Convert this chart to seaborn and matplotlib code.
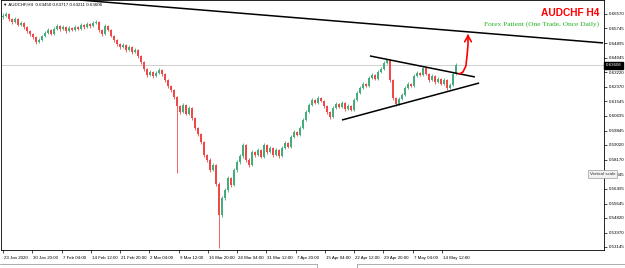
import numpy as np
import pandas as pd
import matplotlib
matplotlib.use("Agg")
import matplotlib.pyplot as plt
from matplotlib.lines import Line2D
import matplotlib.transforms as mtrans
import seaborn as sns

# ---------------- data (AUDCHF, H4, compressed candles) ----------------
first_open = 0.6640
closes = [
    0.6645, 0.6657, 0.6628, 0.6610, 0.6628, 0.6593, 0.6605, 0.6582, 0.6559, 0.6541,
    0.6524, 0.6495, 0.6507, 0.6530, 0.6547, 0.6564, 0.6541, 0.6570, 0.6587, 0.6570,
    0.6582, 0.6559, 0.6576, 0.6564, 0.6582, 0.6570, 0.6593, 0.6582, 0.6599, 0.6587,
    0.6605, 0.6610, 0.6564, 0.6541, 0.6587, 0.6564, 0.6530, 0.6507, 0.6484, 0.6466,
    0.6478, 0.6449, 0.6466, 0.6438, 0.6449, 0.6415, 0.6380, 0.6340, 0.6305, 0.6322,
    0.6299, 0.6317, 0.6334, 0.6311, 0.6276, 0.6242, 0.6219, 0.6178, 0.6127, 0.6092,
    0.6132, 0.6081, 0.6115, 0.6058, 0.6000, 0.5965, 0.5919, 0.5844, 0.5816, 0.5758,
    0.5787, 0.5677, 0.5499, 0.5597, 0.5643, 0.5712, 0.5672, 0.5758, 0.5804, 0.5839,
    0.5902, 0.5816, 0.5787, 0.5862, 0.5844, 0.5873, 0.5833, 0.5902, 0.5862, 0.5885,
    0.5844, 0.5873, 0.5839, 0.5885, 0.5914, 0.5890, 0.5948, 0.5977, 0.5960, 0.6000,
    0.6046, 0.6092, 0.6132, 0.6161, 0.6144, 0.6173, 0.6155, 0.6127, 0.6092, 0.6063,
    0.6115, 0.6138, 0.6121, 0.6144, 0.6109, 0.6127, 0.6104, 0.6161, 0.6202, 0.6230,
    0.6253, 0.6242, 0.6288, 0.6305, 0.6282, 0.6322, 0.6340, 0.6374, 0.6392, 0.6276,
    0.6173, 0.6138, 0.6167, 0.6190, 0.6230, 0.6253, 0.6242, 0.6299, 0.6317, 0.6305,
    0.6346, 0.6311, 0.6276, 0.6299, 0.6265, 0.6282, 0.6253, 0.6276, 0.6230, 0.6248,
    0.6311, 0.63606,
]
highs = [
    0.6660, 0.6668, 0.6664, 0.6636, 0.6640, 0.6634, 0.6616, 0.6612, 0.6590, 0.6567,
    0.6550, 0.6532, 0.6518, 0.6538, 0.6556, 0.6575, 0.6570, 0.6580, 0.6597, 0.6595,
    0.6592, 0.6590, 0.6586, 0.6584, 0.6593, 0.6590, 0.6603, 0.6600, 0.6610, 0.6606,
    0.6614, 0.6622, 0.6618, 0.6572, 0.6598, 0.6594, 0.6571, 0.6538, 0.6515, 0.6492,
    0.6489, 0.6485, 0.6476, 0.6472, 0.6460, 0.6456, 0.6422, 0.6388, 0.6347, 0.6333,
    0.6330, 0.6327, 0.6345, 0.6341, 0.6318, 0.6284, 0.6250, 0.6226, 0.6186, 0.6135,
    0.6143, 0.6140, 0.6126, 0.6122, 0.6066, 0.6008, 0.5973, 0.5927, 0.5853, 0.5825,
    0.5798, 0.5795, 0.5688, 0.5610, 0.5656, 0.5725, 0.5720, 0.5770, 0.5816, 0.5850,
    0.5913, 0.5910, 0.5825, 0.5873, 0.5870, 0.5883, 0.5880, 0.5912, 0.5909, 0.5895,
    0.5892, 0.5882, 0.5880, 0.5895, 0.5924, 0.5921, 0.5958, 0.5987, 0.5985, 0.6010,
    0.6056, 0.6102, 0.6142, 0.6171, 0.6168, 0.6182, 0.6180, 0.6162, 0.6134, 0.6099,
    0.6125, 0.6148, 0.6145, 0.6154, 0.6151, 0.6137, 0.6134, 0.6171, 0.6212, 0.6240,
    0.6263, 0.6260, 0.6298, 0.6315, 0.6312, 0.6332, 0.6350, 0.6384, 0.6398, 0.6397,
    0.6282, 0.6180, 0.6177, 0.6200, 0.6240, 0.6263, 0.6261, 0.6309, 0.6327, 0.6324,
    0.6356, 0.6352, 0.6318, 0.6309, 0.6306, 0.6292, 0.6289, 0.6286, 0.6283, 0.6258,
    0.6321, 0.63717,
]
lows = [
    0.6630, 0.6638, 0.6619, 0.6598, 0.6603, 0.6585, 0.6586, 0.6573, 0.6550, 0.6530,
    0.6514, 0.6483, 0.6488, 0.6500, 0.6522, 0.6540, 0.6533, 0.6535, 0.6562, 0.6561,
    0.6563, 0.6550, 0.6552, 0.6556, 0.6557, 0.6562, 0.6563, 0.6573, 0.6575, 0.6578,
    0.6580, 0.6598, 0.6555, 0.6532, 0.6535, 0.6556, 0.6522, 0.6498, 0.6475, 0.6456,
    0.6458, 0.6440, 0.6442, 0.6429, 0.6430, 0.6406, 0.6370, 0.6330, 0.6294, 0.6297,
    0.6290, 0.6292, 0.6310, 0.6302, 0.6267, 0.6232, 0.6208, 0.6168, 0.5741, 0.6080,
    0.6085, 0.6072, 0.6074, 0.6048, 0.5990, 0.5955, 0.5908, 0.5832, 0.5804, 0.5746,
    0.5750, 0.5663, 0.5309, 0.5488, 0.5585, 0.5632, 0.5660, 0.5663, 0.5748, 0.5795,
    0.5830, 0.5805, 0.5776, 0.5780, 0.5835, 0.5836, 0.5825, 0.5826, 0.5853, 0.5855,
    0.5835, 0.5836, 0.5830, 0.5832, 0.5877, 0.5882, 0.5883, 0.5940, 0.5951, 0.5953,
    0.5993, 0.6039, 0.6085, 0.6125, 0.6136, 0.6137, 0.6147, 0.6118, 0.6083, 0.6052,
    0.6056, 0.6108, 0.6113, 0.6114, 0.6100, 0.6102, 0.6096, 0.6097, 0.6154, 0.6194,
    0.6223, 0.6234, 0.6235, 0.6280, 0.6274, 0.6275, 0.6314, 0.6333, 0.6366, 0.6266,
    0.6163, 0.6128, 0.6130, 0.6160, 0.6183, 0.6223, 0.6234, 0.6235, 0.6292, 0.6297,
    0.6298, 0.6303, 0.6267, 0.6269, 0.6256, 0.6258, 0.6245, 0.6246, 0.6221, 0.6222,
    0.6241, 0.6303,
]

price_ticks = [0.53145, 0.53970, 0.54820, 0.55645, 0.56495, 0.57345, 0.58170, 0.59020,
               0.59845, 0.60695, 0.61545, 0.62370, 0.63220, 0.64045, 0.64895, 0.65745,
               0.66570]
date_labels = ["23 Jan 2020", "30 Jan 20:00", "7 Feb 04:00", "14 Feb 12:00", "21 Feb 20:00",
               "2 Mar 04:00", "9 Mar 12:00", "16 Mar 20:00", "24 Mar 04:00", "31 Mar 12:00",
               "7 Apr 20:00", "15 Apr 04:00", "22 Apr 12:00", "29 Apr 20:00", "7 May 04:00",
               "14 May 12:00"]
date_label_bars = [0, 9.75, 19.5, 29.25, 39, 48.75, 58.5, 68.25, 78, 87.75, 97.5,
                   107.25, 117, 126.75, 136.5, 146.25]

header = "\u25bc AUDCHF,H4  0.63450 0.63717 0.63211 0.63606"
last_price = 0.63606

# user-drawn trendlines: (bar index, price)
long_line = [(25.7, 0.6737), (200.0, 0.6490)]
upper_line = [(122.3, 0.6415), (157.3, 0.6294)]
lower_line = [(113.0, 0.6046), (158.7, 0.6259)]
arrow_bars = [152.0, 153.3, 154.3, 154.7, 155.0, 155.0]
arrow_prices = [0.6311, 0.6322, 0.6357, 0.6420, 0.6478, 0.6525]

# ---------------- build frame ----------------
df = pd.DataFrame({"close": closes, "high": highs, "low": lows})
df["open"] = [first_open] + closes[:-1]
df["bar"] = np.arange(len(df))
df["dir"] = np.where(df["close"] >= df["open"], "up", "down")

sns.set_theme(style="white")
plt.rcParams["font.family"] = ["Liberation Sans", "DejaVu Sans"]

SMALL = 3.15

fig = plt.figure(figsize=(6.25, 2.68), dpi=100)
ax = fig.add_axes([1 / 625, 18 / 268, 603 / 625, 250 / 268])
ax.set_facecolor("white")

palette = {"up": "#45ad7c", "down": "#f04848"}
cols = df["dir"].map(palette)

ax.vlines(df["bar"], df["low"], df["high"], colors=cols, linewidth=0.6, zorder=2)
body_lo = np.minimum(df["open"], df["close"])
body_h = np.maximum(np.abs(df["close"] - df["open"]), 0.00025)
ax.bar(df["bar"], body_h, bottom=body_lo, width=0.72, color=cols, linewidth=0, zorder=3)

ax.set_xlim(-0.667, 200.333)
ax.set_ylim(0.52972, 0.67372)

# current price line
ax.axhline(last_price, color="#c8c8c8", lw=0.6, zorder=1)

# trendlines
for ln in (long_line, upper_line, lower_line):
    ax.plot([ln[0][0], ln[1][0]], [ln[0][1], ln[1][1]], color="black", lw=1.1,
            zorder=5, clip_on=True, solid_capstyle="butt")

# red arrow
ax.plot(arrow_bars, arrow_prices, color="#ff0000", lw=1.2, zorder=6)
ax.annotate("", xy=(155.0, 0.6556), xytext=(155.0, 0.6515),
            arrowprops=dict(arrowstyle="->,head_length=0.35,head_width=0.2",
                            color="#ff0000", lw=1.2), zorder=6)

# axes styling
for s in ax.spines.values():
    s.set_color("black")
    s.set_linewidth(0.6)
ax.yaxis.tick_right()
ax.set_yticks(price_ticks)
ax.set_yticklabels([f"{p:.5f}" for p in price_ticks])
ax.set_xticks(date_label_bars)
ax.set_xticklabels(date_labels, ha="left")
ax.tick_params(axis="both", labelsize=SMALL, length=2, width=0.5, color="black",
               labelcolor="black", direction="out")
ax.tick_params(axis="y", pad=1.2, right=True, left=False)
ax.tick_params(axis="x", pad=2.0, bottom=True)
shift = mtrans.ScaledTranslation(1 / 100, 0, fig.dpi_scale_trans)
for lab in ax.get_xticklabels():
    lab.set_transform(lab.get_transform() + shift)
ax.grid(False)

# price box on axis
ax.text(1.003, last_price, "0.63606", transform=ax.get_yaxis_transform(),
        fontsize=SMALL, color="white", va="center", ha="left", zorder=10,
        bbox=dict(boxstyle="square,pad=0.3", facecolor="black", edgecolor="black"),
        clip_on=False)

# texts
fig.text(3 / 625, 1 - 4.5 / 268, header, fontsize=SMALL, color="black", va="center", ha="left")
fig.text(599 / 625, 1 - 13 / 268, "AUDCHF H4", color="#ff0000", fontsize=7.3,
         fontweight="bold", family=["Liberation Sans", "DejaVu Sans"], ha="right", va="center")
fig.text(599 / 625, 1 - 24 / 268, "Forex Patient (One Trade, Once Daily)", color="#1fb51f",
         fontsize=5.3, family=["Liberation Serif", "DejaVu Serif"], ha="right", va="center")

# "Vertical scale" tooltip (covers a price label, as in the terminal)
fig.text(590 / 625, 1 - 174 / 268, "Vertical scale", fontsize=SMALL, color="#333333",
         va="center", ha="left", zorder=20,
         bbox=dict(boxstyle="square,pad=0.45", facecolor="#f2f2f2", edgecolor="#9a9a9a", lw=0.5))

# bottom tab bar lines
def fig_line(x0, y0, x1, y1, **kw):
    fig.add_artist(Line2D([x0 / 625, x1 / 625], [1 - y0 / 268, 1 - y1 / 268],
                          transform=fig.transFigure, **kw))

fig_line(0, 264, 317, 264, color="#a0a0a0", lw=0.6)
fig_line(317, 264, 317, 268, color="#a0a0a0", lw=0.6)
fig_line(357, 264, 357, 268, color="#a0a0a0", lw=0.6)
fig_line(357, 264, 625, 264, color="#a0a0a0", lw=0.6)

fig.savefig("out.png", dpi=100, facecolor="white")
